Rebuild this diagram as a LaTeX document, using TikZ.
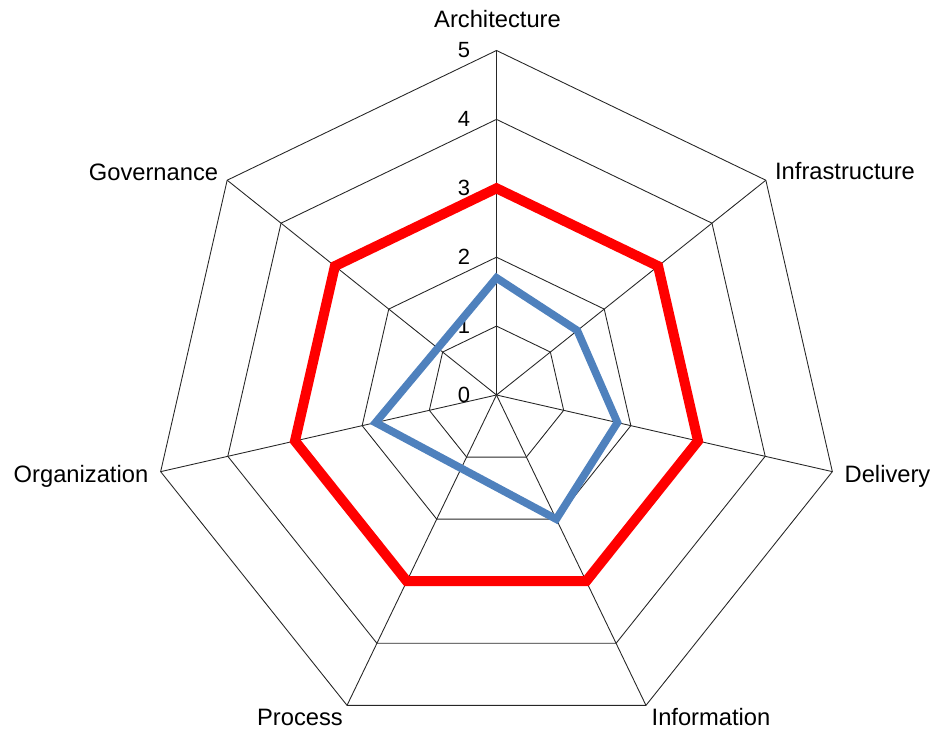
\documentclass[tikz,border=0pt]{standalone}
\usepackage{fontspec}
\setmainfont{Liberation Sans}
\definecolor{seriesblue}{RGB}{79,129,189}
\begin{document}
\begin{tikzpicture}[grid/.style = {draw=black!85, line width=0.5pt},
    axislabel/.style = {anchor=base, inner sep=0pt, font=\fontsize{13.5}{16}\selectfont},
    ticklabel/.style = {anchor=east, inner sep=0pt, font=\fontsize{12.5}{15}\selectfont},
    target/.style = {draw=red, line width=5.7pt, line join=miter},
    current/.style = {draw=seriesblue, line width=4.4pt, line join=miter}]
	\useasboundingbox (-9.93,-6.72) rectangle (8.73,7.9);
	\coordinate (o) at (0,0);
	% rings and spokes
	\foreach \r in {1,...,5}
		\draw[grid] (90:{\r*1.378}) \foreach \k in {1,...,6} { -- ({90-\k*360/7}:{\r*1.378}) } -- cycle;
	\foreach \k in {0,...,6}
		\draw[grid] (o) -- ({90-\k*360/7}:6.89);
	% scale
	\foreach \v in {0,...,5}
		\node[ticklabel] (t\v) at (-0.52, {\v*1.378}) {\v};
	% axis names
	\node[axislabel] (arch) at (0.02, 7.34) {Architecture};
	\node[axislabel] (infra) at (6.97, 4.30) {Infrastructure};
	\node[axislabel] (deliv) at (7.82, -1.76) {Delivery};
	\node[axislabel] (info) at (4.29, -6.60) {Information};
	\node[axislabel] (proc) at (-3.93, -6.60) {Process};
	\node[axislabel] (org) at (-8.31, -1.76) {Organization};
	\node[axislabel] (gov) at (-6.86, 4.29) {Governance};
	% target values
	\coordinate (r1) at (90:4.134);
	\coordinate (r2) at ({90-1*360/7}:4.134);
	\coordinate (r3) at ({90-2*360/7}:4.134);
	\coordinate (r4) at ({90-3*360/7}:4.134);
	\coordinate (r5) at ({90-4*360/7}:4.134);
	\coordinate (r6) at ({90-5*360/7}:4.134);
	\coordinate (r7) at ({90-6*360/7}:4.134);
	\draw[target] (r1) -- (r2) -- (r3) -- (r4) -- (r5) -- (r6) -- (r7) -- cycle;
	% current values
	\coordinate (b1) at (90:{1.7*1.378});
	\coordinate (b2) at ({90-1*360/7}:{1.5*1.378});
	\coordinate (b3) at ({90-2*360/7}:{1.8*1.378});
	\coordinate (b4) at ({90-3*360/7}:{2.0*1.378});
	\coordinate (b6) at ({90-5*360/7}:{1.8*1.378});
	\draw[current] (b1) -- (b2) -- (b3) -- (b4) -- (b6) -- cycle;
\end{tikzpicture}
\end{document}
